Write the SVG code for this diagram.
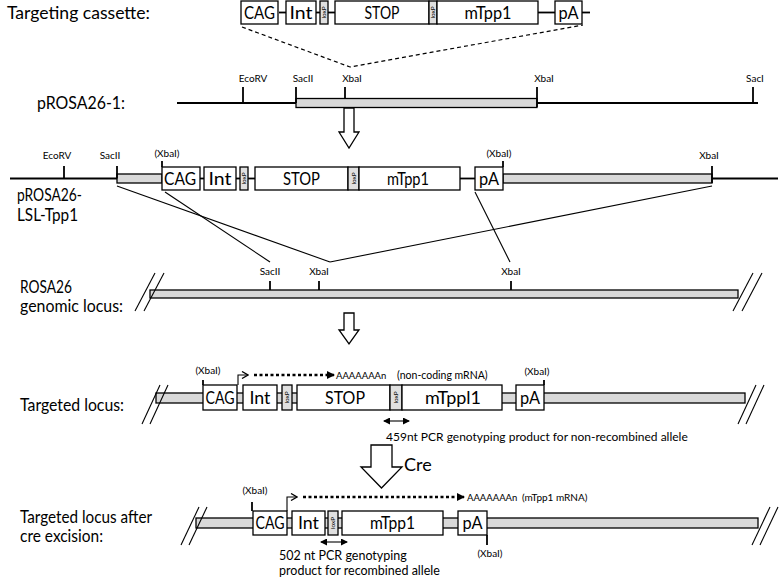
<svg xmlns="http://www.w3.org/2000/svg" width="780" height="578" viewBox="0 0 780 578">
<defs>
<style>
text{font-family:Lato,"Liberation Sans",sans-serif;fill:#000}
.lbl{font-size:17px}
.sm{font-size:10px}
.tx{font-size:9.5px}
.bx{font-size:17px;text-anchor:middle}
.lox{font-size:6.5px;text-anchor:middle}
.box{fill:#fff;stroke:#000;stroke-width:1.3}
.lx{fill:#e0e0e0;stroke:#000;stroke-width:1.3}
.bar{fill:#d9d9d9;stroke:#000;stroke-width:1.3}
.ln{stroke:#000;stroke-width:1.8;fill:none}
.tk{stroke:#000;stroke-width:1.8}
.thin{stroke:#000;stroke-width:1.1;fill:none}
.hol{fill:#fff;stroke:#000;stroke-width:1.3}
.dot{stroke:#000;stroke-width:2.5;stroke-dasharray:3,2.5}
</style>
<marker id="tri" markerWidth="8" markerHeight="8" refX="7" refY="4" orient="auto" markerUnits="userSpaceOnUse"><path d="M0,0 L8,4 L0,8z" fill="#000"/></marker>
<marker id="open" markerWidth="8" markerHeight="8" refX="7" refY="4" orient="auto" markerUnits="userSpaceOnUse"><path d="M1,0.5 L7,4 L1,7.5" fill="none" stroke="#000" stroke-width="1.3"/></marker>
<marker id="ah" markerWidth="7" markerHeight="7" refX="6" refY="3.5" orient="auto-start-reverse" markerUnits="userSpaceOnUse"><path d="M0,0 L7,3.5 L0,7z" fill="#000"/></marker>
</defs>

<!-- Row 1: targeting cassette -->
<g id="cassette">
<text class="lbl" x="7" y="19" textLength="143" lengthAdjust="spacingAndGlyphs">Targeting cassette:</text>
<line class="ln" x1="279" y1="12.5" x2="286" y2="12.5"/>
<line class="ln" x1="316" y1="12.5" x2="320" y2="12.5"/>
<line class="ln" x1="328" y1="12.5" x2="335" y2="12.5"/>
<line class="ln" x1="538" y1="12.5" x2="555" y2="12.5"/>
<line class="ln" x1="582" y1="12.5" x2="590" y2="12.5"/>
<rect class="box" x="241" y="1" width="37" height="23"/><text class="bx" x="259.5" y="19" textLength="31" lengthAdjust="spacingAndGlyphs">CAG</text>
<rect class="box" x="286" y="1" width="30" height="23"/><text class="bx" x="301" y="19" textLength="23" lengthAdjust="spacingAndGlyphs">Int</text>
<rect class="lx" x="320" y="1" width="8" height="23"/><text class="lox" transform="translate(326.3,12.5) rotate(-90)">loxP</text>
<rect class="box" x="335" y="1" width="94" height="23"/><text class="bx" x="382" y="19" textLength="35" lengthAdjust="spacingAndGlyphs">STOP</text>
<rect class="lx" x="429" y="1" width="8" height="23"/><text class="lox" transform="translate(435.3,12.5) rotate(-90)">loxP</text>
<rect class="box" x="437" y="1" width="101" height="23"/><text class="bx" x="488" y="19" textLength="47" lengthAdjust="spacingAndGlyphs">mTpp1</text>
<rect class="box" x="555" y="1" width="27" height="23"/><text class="bx" x="568.5" y="19" textLength="20" lengthAdjust="spacingAndGlyphs">pA</text>
</g>

<!-- Row 2: pROSA26-1 -->
<g id="prosa26-1">
<text class="lbl" x="37" y="109" textLength="88" lengthAdjust="spacingAndGlyphs">pROSA26-1:</text>
<line class="ln" x1="177" y1="103" x2="296" y2="103"/>
<rect class="bar" x="296" y="98.5" width="241" height="9"/>
<line class="ln" x1="537" y1="103" x2="758" y2="103"/>
<line class="tk" x1="243" y1="87" x2="243" y2="103"/>
<line class="tk" x1="296" y1="87" x2="296" y2="103"/>
<line class="tk" x1="345" y1="87" x2="345" y2="98.5"/>
<line class="tk" x1="537" y1="87" x2="537" y2="107"/>
<line class="tk" x1="753" y1="87" x2="753" y2="103"/>
<text class="sm" x="253" y="82" text-anchor="middle">EcoRV</text>
<text class="sm" x="303" y="82" text-anchor="middle">SacII</text>
<text class="sm" x="352" y="82" text-anchor="middle">XbaI</text>
<text class="sm" x="544" y="82" text-anchor="middle">XbaI</text>
<text class="sm" x="755" y="82" text-anchor="middle">SacI</text>
</g>

<!-- Row 3: pROSA26-LSL-Tpp1 -->
<g id="prosa26-lsl-tpp1">
<text class="lbl" x="17" y="201" textLength="65" lengthAdjust="spacingAndGlyphs">pROSA26-</text>
<text class="lbl" x="17" y="221" textLength="61" lengthAdjust="spacingAndGlyphs">LSL-Tpp1</text>
<line class="ln" x1="10" y1="178.5" x2="117" y2="178.5"/>
<rect class="bar" x="117" y="174" width="45" height="9"/>
<line class="ln" x1="200" y1="178.5" x2="204" y2="178.5"/>
<line class="ln" x1="236" y1="178.5" x2="240" y2="178.5"/>
<line class="ln" x1="248" y1="178.5" x2="255" y2="178.5"/>
<line class="ln" x1="460" y1="178.5" x2="475" y2="178.5"/>
<rect class="bar" x="503" y="174" width="209" height="9"/>
<line class="ln" x1="712" y1="178.5" x2="778" y2="178.5"/>
<rect class="box" x="162" y="167" width="38" height="23"/><text class="bx" x="180" y="185" textLength="32" lengthAdjust="spacingAndGlyphs">CAG</text>
<rect class="box" x="204" y="167" width="32" height="23"/><text class="bx" x="220" y="185" textLength="23" lengthAdjust="spacingAndGlyphs">Int</text>
<rect class="lx" x="240" y="167" width="8" height="23"/><text class="lox" transform="translate(246.3,178.5) rotate(-90)">loxP</text>
<rect class="box" x="255" y="167" width="93" height="23"/><text class="bx" x="301.5" y="185" textLength="37" lengthAdjust="spacingAndGlyphs">STOP</text>
<rect class="lx" x="348" y="167" width="11" height="23"/><text class="lox" transform="translate(355.8,178.5) rotate(-90)">loxP</text>
<rect class="box" x="359" y="167" width="101" height="23"/><text class="bx" x="408" y="185" textLength="42" lengthAdjust="spacingAndGlyphs">mTpp1</text>
<rect class="box" x="475" y="167" width="28" height="23"/><text class="bx" x="489" y="185" textLength="20" lengthAdjust="spacingAndGlyphs">pA</text>
<line class="tk" x1="64" y1="166" x2="64" y2="178.5"/>
<line class="tk" x1="117" y1="166" x2="117" y2="178.5"/>
<line class="tk" x1="162" y1="161" x2="162" y2="167"/>
<line class="tk" x1="503" y1="161" x2="503" y2="167"/>
<line class="tk" x1="712" y1="166" x2="712" y2="183"/>
<text class="sm" x="57" y="159" text-anchor="middle">EcoRV</text>
<text class="sm" x="110" y="159" text-anchor="middle">SacII</text>
<text class="sm" x="167" y="157" text-anchor="middle">(XbaI)</text>
<text class="sm" x="499" y="157" text-anchor="middle">(XbaI)</text>
<text class="sm" x="709" y="159" text-anchor="middle">XbaI</text>
</g>

<!-- Row 4: genomic locus -->
<g id="genomic-locus">
<text class="lbl" x="20" y="293" textLength="52" lengthAdjust="spacingAndGlyphs">ROSA26</text>
<text class="lbl" x="20" y="312" textLength="103" lengthAdjust="spacingAndGlyphs">genomic locus:</text>
<rect class="bar" x="150" y="290" width="588" height="8"/>
<line class="thin" x1="135" y1="311" x2="155" y2="273"/>
<line class="thin" x1="144" y1="311" x2="164" y2="273"/>
<line class="thin" x1="733" y1="311" x2="753" y2="273"/>
<line class="thin" x1="742" y1="311" x2="762" y2="273"/>
<line class="tk" x1="270" y1="281" x2="270" y2="290"/>
<line class="tk" x1="319" y1="281" x2="319" y2="290"/>
<line class="tk" x1="511" y1="281" x2="511" y2="290"/>
<text class="sm" x="270" y="275" text-anchor="middle">SacII</text>
<text class="sm" x="319" y="275" text-anchor="middle">XbaI</text>
<text class="sm" x="511" y="275" text-anchor="middle">XbaI</text>
</g>

<!-- Row 5: targeted locus -->
<g id="targeted-locus">
<text class="lbl" x="20" y="411" textLength="104" lengthAdjust="spacingAndGlyphs">Targeted locus:</text>
<rect class="bar" x="156" y="393" width="589" height="10"/>
<line class="thin" x1="142" y1="424" x2="160" y2="385"/>
<line class="thin" x1="150" y1="424" x2="168" y2="385"/>
<line class="thin" x1="738" y1="424" x2="756" y2="385"/>
<line class="thin" x1="746" y1="424" x2="764" y2="385"/>
<rect class="box" x="203" y="385" width="34" height="25"/><text class="bx" x="220" y="404" textLength="29" lengthAdjust="spacingAndGlyphs">CAG</text>
<rect class="box" x="243" y="385" width="34" height="25"/><text class="bx" x="260" y="404" textLength="21" lengthAdjust="spacingAndGlyphs">Int</text>
<rect class="lx" x="282" y="385" width="10" height="25"/><text class="lox" transform="translate(289.3,397.5) rotate(-90)">loxP</text>
<rect class="box" x="297" y="385" width="93" height="25"/><text class="bx" x="345" y="404" textLength="40" lengthAdjust="spacingAndGlyphs">STOP</text>
<rect class="lx" x="390" y="385" width="12" height="25"/><text class="lox" transform="translate(398.3,397.5) rotate(-90)">loxP</text>
<rect class="box" x="402" y="385" width="100" height="25"/><text class="bx" x="453" y="404" textLength="56" lengthAdjust="spacingAndGlyphs">mTppl1</text>
<rect class="box" x="516" y="385" width="28" height="25"/><text class="bx" x="530" y="404" textLength="20" lengthAdjust="spacingAndGlyphs">pA</text>
<line class="tk" x1="203" y1="380" x2="203" y2="385"/>
<line class="tk" x1="544" y1="380" x2="544" y2="385"/>
<text class="sm" x="208" y="374" text-anchor="middle">(XbaI)</text>
<text class="sm" x="537" y="375" text-anchor="middle">(XbaI)</text>
<path class="thin" d="M238,385 V375 H248" marker-end="url(#open)"/>
<line class="dot" x1="254" y1="375" x2="334" y2="375" marker-end="url(#tri)"/>
<text class="tx" x="336" y="378.5">AAAAAAAn</text>
<text x="397" y="378.5" style="font-size:10.5px">(non-coding mRNA)</text>
<line class="thin" x1="384" y1="421" x2="409" y2="421" stroke-width="1.5" marker-start="url(#ah)" marker-end="url(#ah)"/>
<text x="386" y="441" style="font-size:12px">459nt PCR genotyping product for non-recombined allele</text>
</g>

<!-- Row 6: after cre excision -->
<g id="excised-locus">
<text class="lbl" x="20" y="523" textLength="132" lengthAdjust="spacingAndGlyphs">Targeted locus after</text>
<text class="lbl" x="20" y="542" textLength="83" lengthAdjust="spacingAndGlyphs">cre excision:</text>
<rect class="bar" x="196" y="518" width="562" height="10"/>
<line class="thin" x1="181" y1="545" x2="199" y2="507"/>
<line class="thin" x1="189" y1="545" x2="207" y2="507"/>
<line class="thin" x1="752" y1="545" x2="770" y2="507"/>
<line class="thin" x1="760" y1="545" x2="778" y2="507"/>
<rect class="box" x="253" y="511" width="34" height="24"/><text class="bx" x="270" y="529" textLength="29" lengthAdjust="spacingAndGlyphs">CAG</text>
<rect class="box" x="292" y="511" width="33" height="24"/><text class="bx" x="308.5" y="529" textLength="21" lengthAdjust="spacingAndGlyphs">Int</text>
<rect class="lx" x="328" y="511" width="10" height="24"/><text class="lox" transform="translate(335.3,523) rotate(-90)">loxP</text>
<rect class="box" x="342" y="511" width="101" height="24"/><text class="bx" x="392.5" y="529" textLength="45" lengthAdjust="spacingAndGlyphs">mTpp1</text>
<rect class="box" x="458" y="511" width="29" height="24"/><text class="bx" x="472.5" y="529" textLength="20" lengthAdjust="spacingAndGlyphs">pA</text>
<line class="tk" x1="252" y1="502" x2="252" y2="511"/>
<line class="tk" x1="487" y1="535" x2="487" y2="545"/>
<text class="sm" x="255" y="494" text-anchor="middle">(XbaI)</text>
<text class="sm" x="490" y="557" text-anchor="middle">(XbaI)</text>
<path class="thin" d="M287,511 V497 H297" marker-end="url(#open)"/>
<line class="dot" x1="303" y1="497" x2="464" y2="497" marker-end="url(#tri)"/>
<text class="tx" x="467" y="500.5">AAAAAAAn</text>
<text x="522" y="500.5" style="font-size:10px">(mTpp1 mRNA)</text>
<line class="thin" x1="321" y1="542" x2="347" y2="542" stroke-width="1.5" marker-start="url(#ah)" marker-end="url(#ah)"/>
<text x="279" y="560" style="font-size:12.5px">502 nt PCR genotyping</text>
<text x="279" y="575" style="font-size:12.5px">product for recombined allele</text>
</g>

<!-- Connectors -->
<g id="connectors">
<path d="M242,27 L350,67 L583,25" fill="none" stroke="#000" stroke-width="1.2" stroke-dasharray="4,3"/>
<line class="thin" x1="117" y1="186" x2="330" y2="262"/>
<line class="thin" x1="165" y1="192" x2="270" y2="262"/>
<line class="thin" x1="712" y1="186" x2="330" y2="262"/>
<line class="thin" x1="475" y1="192" x2="510" y2="262"/>
<path class="hol" d="M344,108 H354 V132 H359 L349,148 L339,132 H344z"/>
<path class="hol" d="M344,313 H354 V330 H359 L349,344 L339,330 H344z"/>
<path class="hol" d="M371,445 H392 V467 H402 L381.5,488 L361,467 H371z"/>
<text x="404" y="471" style="font-size:18px">Cre</text>
</g>
</svg>
